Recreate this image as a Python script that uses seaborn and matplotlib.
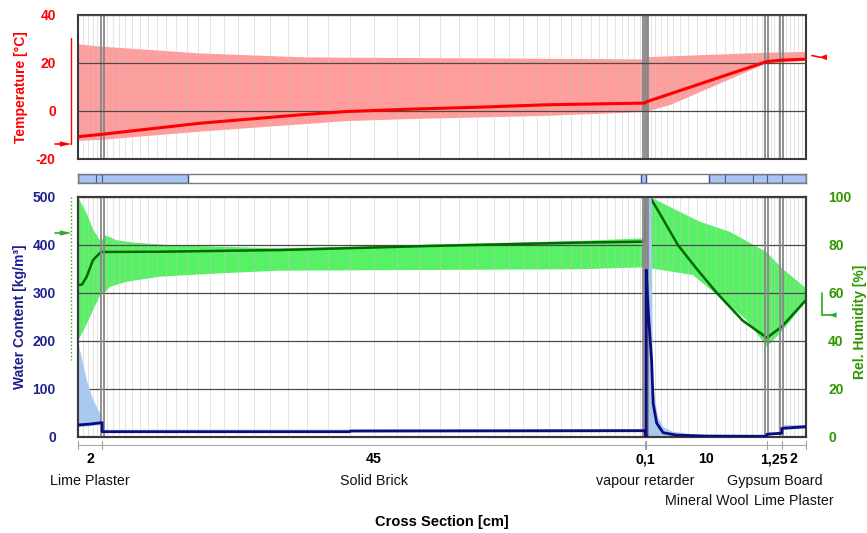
import numpy as np
import matplotlib
matplotlib.use("Agg")
import matplotlib.pyplot as plt
from matplotlib.patches import Rectangle
import seaborn as sns

# ---------------- wall build-up, exterior (left) to interior (right) ----------------
layer_names = ["Lime Plaster", "Solid Brick", "vapour retarder",
               "Mineral Wool", "Gypsum Board", "Lime Plaster"]
layer_thickness_cm = [2.0, 45.0, 0.1, 10.0, 1.25, 2.0]
layer_thickness_labels = ["2", "45", "0,1", "10", "1,25", "2"]
layer_label_row = [0, 0, 0, 1, 0, 1]

# ---------------- temperature [°C] ----------------
temp_x = [0.0, 2.0, 10.1, 18.4, 22.3, 27.8, 33.3, 38.9, 47.0, 47.1, 57.1, 58.35, 60.35]
temp_mean = [-10.7, -9.7, -5.1, -1.6, -0.2, 0.8, 1.6, 2.6, 3.3, 3.8, 20.6, 21.2, 21.6]
temp_max_x = [0.0, 2.0, 10.1, 18.4, 22.3, 30.0, 40.0, 47.0, 47.1, 57.1, 58.35, 60.35]
temp_max = [27.8, 26.8, 24.0, 22.4, 22.2, 22.0, 21.7, 21.5, 22.4, 24.3, 24.4, 24.6]
temp_min_x = [0.0, 2.0, 10.1, 18.4, 22.3, 27.8, 33.3, 38.9, 47.0, 47.1, 49.1, 57.1, 58.35, 60.35]
temp_min = [-12.5, -12.0, -8.6, -5.6, -4.2, -3.3, -2.7, -2.0, -0.4, -0.3, 2.5, 19.9, 20.1, 21.0]

# ---------------- relative humidity [%] ----------------
rh_x = [0.0, 0.33, 0.72, 1.24, 1.82, 2.0, 2.38, 6.8, 16.7, 29.2, 41.6, 47.0,
        47.1, 47.41, 48.24, 49.73, 51.3, 52.96, 55.1, 56.0, 56.6, 57.1, 58.35, 60.35]
rh_mean = [63.3, 63.5, 66.8, 73.7, 76.7, 77.1, 77.1, 77.2, 77.9, 79.6, 81.0, 81.4,
           100.0, 100.0, 93.0, 80.0, 70.0, 60.0, 48.5, 45.3, 43.2, 41.3, 46.0, 57.1]
rh_max_x = [0.0, 0.72, 1.27, 1.82, 2.0, 2.2, 3.2, 4.6, 7.4, 11.8, 16.7, 41.6, 47.0,
            47.1, 47.41, 51.55, 54.04, 57.1, 58.35, 60.35]
rh_max = [100.0, 93.2, 86.3, 82.0, 82.0, 84.2, 82.0, 81.0, 80.0, 79.3, 78.6, 81.7, 82.8,
          100.0, 100.0, 89.7, 85.5, 77.0, 70.3, 62.0]
rh_min_x = [0.0, 0.72, 1.27, 1.82, 2.0, 2.2, 2.65, 4.06, 6.8, 11.8, 16.7, 41.6, 47.0,
            47.1, 47.41, 50.97, 53.49, 55.42, 57.1, 58.35, 60.35]
rh_min = [40.0, 47.0, 53.0, 59.0, 60.0, 60.0, 62.6, 64.7, 66.8, 68.2, 69.3, 69.9, 70.7,
          70.7, 70.3, 67.5, 57.1, 48.75, 37.6, 44.0, 56.4]

# ---------------- water content [kg/m³] ----------------
wc_x = [0.0, 1.0, 2.0, 2.0, 22.5, 22.6, 47.0, 47.1, 47.1, 47.3, 47.55, 47.68,
        47.97, 48.5, 49.6, 52.0, 57.1, 57.1, 58.35, 58.35, 60.35]
wc_mean = [25.0, 27.0, 30.0, 11.0, 11.0, 12.5, 13.2, 0.0, 348.0, 250.0, 160.0, 70.0,
           29.0, 9.0, 4.0, 2.0, 1.5, 5.6, 8.0, 18.0, 21.5]
wc_max_x = [0.0, 0.72, 1.27, 1.82, 2.0, 2.0, 47.0, 47.1, 47.55, 47.66, 48.08, 48.5,
            49.3, 50.5, 52.0, 57.1, 57.1, 58.35, 58.35, 60.35]
wc_max = [200.0, 119.0, 77.0, 50.0, 45.0, 15.0, 16.0, 500.0, 500.0, 105.0, 42.0, 21.0,
          11.0, 7.0, 4.0, 3.0, 10.0, 10.0, 25.0, 25.0]
wc_min_x = [0.0, 2.0, 2.0, 47.0, 47.1, 57.1, 57.1, 58.35, 58.35, 60.35]
wc_min = [20.0, 25.0, 9.0, 10.0, 0.0, 0.0, 4.0, 4.0, 15.0, 17.0]

# ---------------- boundary climate indicators ----------------
ext_temp_range = [30.3, -13.75]
ext_temp_now = -13.75
int_temp_now = 22.4
ext_rh_range = [100.0, 32.0]
ext_rh_now = 85.0
int_rh_range = [60.0, 50.8]
int_rh_now = 50.8

# ---------------- layer status bar ----------------
bar_segments = [(0.0, 9.1), (46.7, 47.1), (52.3, 60.35)]
bar_dividers = [1.47, 2.0, 53.63, 55.92, 57.1, 58.35]

# ---------------- styling ----------------
sns.set_theme(style="white")
plt.rcParams["font.family"] = ["Liberation Sans", "DejaVu Sans"]
plt.rcParams["axes.unicode_minus"] = False

RED, RED_BAND = "#ff0000", "#ff9c9c"
GREEN_LINE, GREEN_BAND, GREEN_TXT = "#006a00", "#58f064", "#2e9600"
NAVY, NAVY_TXT, BLUE_BAND = "#0b0b82", "#1f1f8f", "#a8c8ee"
GRID, MESH, BOUND, SPINE = "#4a4a4a", "#c4c4c4", "#888888", "#3a3a3a"

edges = np.concatenate([[0.0], np.cumsum(layer_thickness_cm)])
total = edges[-1]
interfaces = edges[1:-1]


def graded_mesh(x0, x1, n, ratio):
    """Cell faces of a grid refined symmetrically towards both layer faces."""
    half = np.power(ratio, np.arange((n + 1) // 2))
    sizes = np.concatenate([half, half[: n // 2][::-1]])
    sizes = sizes / sizes.sum() * (x1 - x0)
    return x0 + np.cumsum(sizes)[:-1]


mesh_cells = [5, 44, 0, 18, 4, 6]
mesh_ratio = [1.05, 1.075, 1.0, 1.1, 1.0, 1.05]
mesh = np.concatenate([graded_mesh(edges[i], edges[i + 1], n, r)
                       for i, (n, r) in enumerate(zip(mesh_cells, mesh_ratio)) if n > 0])

fig = plt.figure(figsize=(8.67, 5.33), dpi=100)
W_PX, H_PX = 867.0, 533.0
L, W = 78 / W_PX, 728 / W_PX
ax_t = fig.add_axes([L, 1 - 159 / H_PX, W, 144 / H_PX])
ax_bar = fig.add_axes([L, 1 - 183 / H_PX, W, 9.5 / H_PX])
ax_w = fig.add_axes([L, 1 - 437 / H_PX, W, 240 / H_PX])
ax_rh = ax_w.twinx()
ax_w.set_zorder(ax_rh.get_zorder() + 1)
ax_w.patch.set_visible(False)


def band(ax, xu, yu, xl, yl, color):
    xs = np.concatenate([xu, xl[::-1]])
    ys = np.concatenate([yu, yl[::-1]])
    ax.fill(xs, ys, color=color, lw=0, zorder=1)


def draw_mesh(ax):
    ax.vlines(mesh, 0, 1, transform=ax.get_xaxis_transform(),
              color=MESH, lw=0.6, alpha=0.55, zorder=1.5)


def draw_interfaces(ax):
    for xb in interfaces:
        for dx in (-0.13, 0.13):
            ax.axvline(xb + dx, color=BOUND, lw=1.3, zorder=2.2)


def frame(ax):
    for s in ax.spines.values():
        s.set_color(SPINE)
        s.set_linewidth(1.5)


def indicator(ax, side, y_range, y_now, color, dotted=False, dy=1.1):
    tr = ax.get_yaxis_transform()
    if side == "left":
        if y_range is not None:
            ax.plot([-0.0096, -0.0096], y_range, transform=tr, clip_on=False,
                    color=color, lw=1.0, ls=":" if dotted else "-")
        ax.plot([-0.031, -0.024], [y_now, y_now], transform=tr, clip_on=False,
                color=color, lw=1.2)
        ax.fill([-0.025, -0.0085, -0.025], [y_now - dy, y_now, y_now + dy],
                transform=tr, clip_on=False, color=color, lw=0)
    else:
        if y_range is not None:
            ax.plot([1.0215, 1.0215], y_range, transform=tr, clip_on=False,
                    color=color, lw=1.2)
            ax.plot([1.0215, 1.034], [y_now, y_now], transform=tr, clip_on=False,
                    color=color, lw=1.2)
            ax.fill([1.0315, 1.042, 1.042], [y_now, y_now - dy, y_now + dy],
                    transform=tr, clip_on=False, color=color, lw=0)
        else:
            ax.plot([1.0082, 1.0192], [y_now + 0.7, y_now], transform=tr,
                    clip_on=False, color=color, lw=1.2)
            ax.fill([1.0179, 1.0288, 1.0288], [y_now, y_now - dy, y_now + dy],
                    transform=tr, clip_on=False, color=color, lw=0)


# ---------------- temperature panel ----------------
ax_t.set_xlim(0, total)
ax_t.set_ylim(-20, 40)
band(ax_t, temp_max_x, temp_max, temp_min_x, temp_min, RED_BAND)
draw_mesh(ax_t)
draw_interfaces(ax_t)
sns.lineplot(x=temp_x, y=temp_mean, ax=ax_t, color=RED, lw=2.2,
             estimator=None, sort=False, zorder=3)
ax_t.set_yticks([-20, 0, 20, 40])
ax_t.set_xticks([])
ax_t.set_axisbelow(False)
ax_t.yaxis.grid(True, color=GRID, lw=0.9)
ax_t.xaxis.grid(False)
ax_t.tick_params(axis="y", length=0, pad=16, labelcolor=RED, labelsize=10)
plt.setp(ax_t.get_yticklabels(), fontweight="bold")
ax_t.set_ylabel("Temperature [°C]", color=RED, fontsize=10, fontweight="bold",
                va="center")
ax_t.yaxis.set_label_coords(-0.078, 0.5)
frame(ax_t)
indicator(ax_t, "left", ext_temp_range, ext_temp_now, RED, dy=1.1)
indicator(ax_t, "right", None, int_temp_now, RED, dy=1.2)

# ---------------- layer status bar ----------------
ax_bar.set_xlim(0, total)
ax_bar.set_ylim(0, 1)
for x0, x1 in bar_segments:
    ax_bar.add_patch(Rectangle((x0, 0), x1 - x0, 1, facecolor="#a7c5ee",
                               edgecolor="#2d4c9e", lw=1.0))
for xd in bar_dividers:
    ax_bar.axvline(xd, color="#3a58a6", lw=0.8)
ax_bar.set_xticks([])
ax_bar.set_yticks([])
for s in ax_bar.spines.values():
    s.set_color("#7a7a7a")
    s.set_linewidth(1.0)

# ---------------- humidity / water content panel ----------------
ax_w.set_xlim(0, total)
ax_w.set_ylim(0, 500)
ax_rh.set_ylim(0, 100)

band(ax_rh, rh_max_x, rh_max, rh_min_x, rh_min, GREEN_BAND)
draw_mesh(ax_rh)
sns.lineplot(x=rh_x, y=rh_mean, ax=ax_rh, color=GREEN_LINE, lw=1.8,
             estimator=None, sort=False, zorder=3)
ax_rh.set_axisbelow(False)
ax_rh.set_yticks(range(0, 101, 20))
ax_rh.yaxis.grid(True, color=GRID, lw=0.9)
ax_rh.xaxis.grid(False)

band(ax_w, wc_max_x, wc_max, wc_min_x, wc_min, BLUE_BAND)
draw_interfaces(ax_w)
sns.lineplot(x=wc_x, y=wc_mean, ax=ax_w, color=NAVY, lw=2.0,
             estimator=None, sort=False, zorder=3)
ax_w.set_yticks(range(0, 501, 100))
ax_w.set_xticks([])
ax_w.grid(False)

ax_w.tick_params(axis="y", length=0, pad=16, labelcolor=NAVY_TXT, labelsize=10)
plt.setp(ax_w.get_yticklabels(), fontweight="bold")
ax_rh.tick_params(axis="y", length=0, pad=16, labelcolor=GREEN_TXT, labelsize=10)
plt.setp(ax_rh.get_yticklabels(), fontweight="bold")
ax_w.set_ylabel("Water Content [kg/m³]", color=NAVY_TXT, fontsize=10, fontweight="bold",
                va="center")
ax_w.yaxis.set_label_coords(-0.0797, 0.5)
ax_rh.set_ylabel("Rel. Humidity [%]", color=GREEN_TXT, fontsize=10, fontweight="bold",
                 rotation=90, va="center")
ax_rh.yaxis.set_label_coords(1.074, 0.48)
ax_w.set_xlabel("")
ax_rh.set_xlabel("")
frame(ax_w)
frame(ax_rh)

indicator(ax_rh, "left", ext_rh_range, ext_rh_now, "#2ea82e", dotted=True, dy=1.1)
indicator(ax_rh, "right", int_rh_range, int_rh_now, "#22b022", dy=1.1)

# ---------------- cross-section dimensioning ----------------
xa = ax_w.get_xaxis_transform()
ax_w.plot([0, total], [-0.033, -0.033], transform=xa, clip_on=False,
          color="#a8a8a8", lw=0.8)
for xb in edges:
    ax_w.plot([xb, xb], [-0.017, -0.05], transform=xa, clip_on=False,
              color="#a0a0a0", lw=0.8)

centers = (edges[:-1] + edges[1:]) / 2
for xc, thick, name, row in zip(centers, layer_thickness_labels, layer_names, layer_label_row):
    ax_w.text(xc, -0.092, thick, transform=xa, ha="center", va="center",
              fontsize=10.2, fontweight="bold", color="black")
    ax_w.text(xc, -0.183 - 0.084 * row, name, transform=xa, ha="center", va="center",
              fontsize=10.3, color="#111111")
ax_w.text(total / 2, -0.354, "Cross Section [cm]", transform=xa, ha="center",
          va="center", fontsize=10.5, fontweight="bold", color="black")

fig.savefig("out.png", dpi=100)
